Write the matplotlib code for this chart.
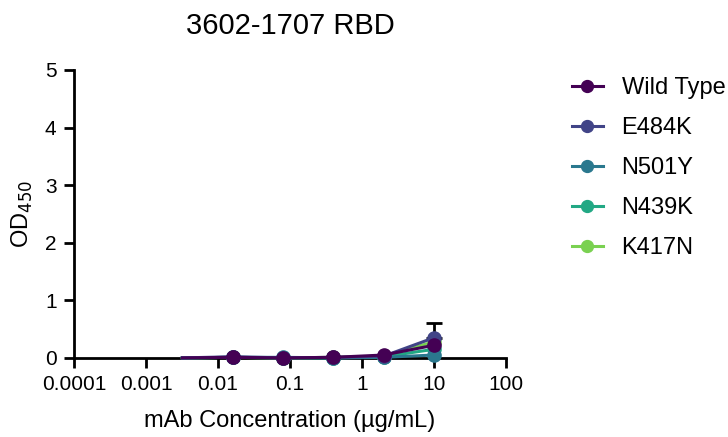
import matplotlib.pyplot as plt
import numpy as np

plt.rcParams['font.family'] = ['Liberation Sans', 'DejaVu Sans']

conc = [0.0032, 0.016, 0.08, 0.4, 2, 10]
names = ['Wild Type', 'E484K', 'N501Y', 'N439K', 'K417N']
colors = ['#440154', '#414487', '#2a788e', '#22a884', '#7ad151']
od = {
    'Wild Type': [0.0, 0.01, 0.0, 0.01, 0.05, 0.22],
    'E484K': [0.0, 0.02, 0.0, 0.01, 0.03, 0.35],
    'N501Y': [0.0, 0.01, 0.01, 0.0, 0.01, 0.05],
    'N439K': [0.0, 0.01, 0.0, 0.0, 0.02, 0.15],
    'K417N': [0.0, 0.01, 0.0, 0.01, 0.03, 0.28],
}
err_e484k = [0.0, 0.0, 0.0, 0.0, 0.0, 0.26]

fig = plt.figure(figsize=(7.28, 4.37), dpi=100)
ax = fig.add_axes([0.1016, 0.181, 0.5934, 0.659])

for i in range(len(names) - 1, -1, -1):
    n = names[i]
    ax.plot(conc, od[n], color=colors[i], lw=2.2, marker='o', ms=9.5,
            markevery=slice(1, None), label=n, clip_on=False, zorder=3 + (5 - i))
    if n == 'E484K':
        ax.errorbar(conc[1:], od[n][1:], yerr=[np.zeros(5), err_e484k[1:]],
                    fmt='none', ecolor='black', elinewidth=2, capsize=6, capthick=2,
                    clip_on=False, zorder=2)

ax.set_xscale('log')
ax.set_xlim(0.0001, 100)
ax.set_ylim(0, 5)
ax.set_xticks([0.0001, 0.001, 0.01, 0.1, 1, 10, 100])
ax.set_xticklabels(['0.0001', '0.001', '0.01', '0.1', '1', '10', '100'])
ax.minorticks_off()
ax.set_yticks([0, 1, 2, 3, 4, 5])
for s in ['top', 'right']:
    ax.spines[s].set_visible(False)
for s in ['left', 'bottom']:
    ax.spines[s].set_linewidth(2)
ax.tick_params(width=2, length=7.5, labelsize=15, pad=5)
ax.set_xlabel('mAb Concentration (µg/mL)', fontsize=17, labelpad=11)
ax.set_ylabel('OD$_{450}$', fontsize=17, labelpad=7)
ax.set_title('3602-1707 RBD', fontsize=21, pad=26)

h, l = ax.get_legend_handles_labels()
fig.legend(h[::-1], l[::-1], loc='upper left', bbox_to_anchor=(572 / 728, 1 - 77 / 437),
           frameon=False, fontsize=17, labelspacing=0.76, handlelength=1.3,
           handletextpad=0.8, borderpad=0, borderaxespad=0, markerscale=0.9)

fig.savefig('out.png', dpi=100)
